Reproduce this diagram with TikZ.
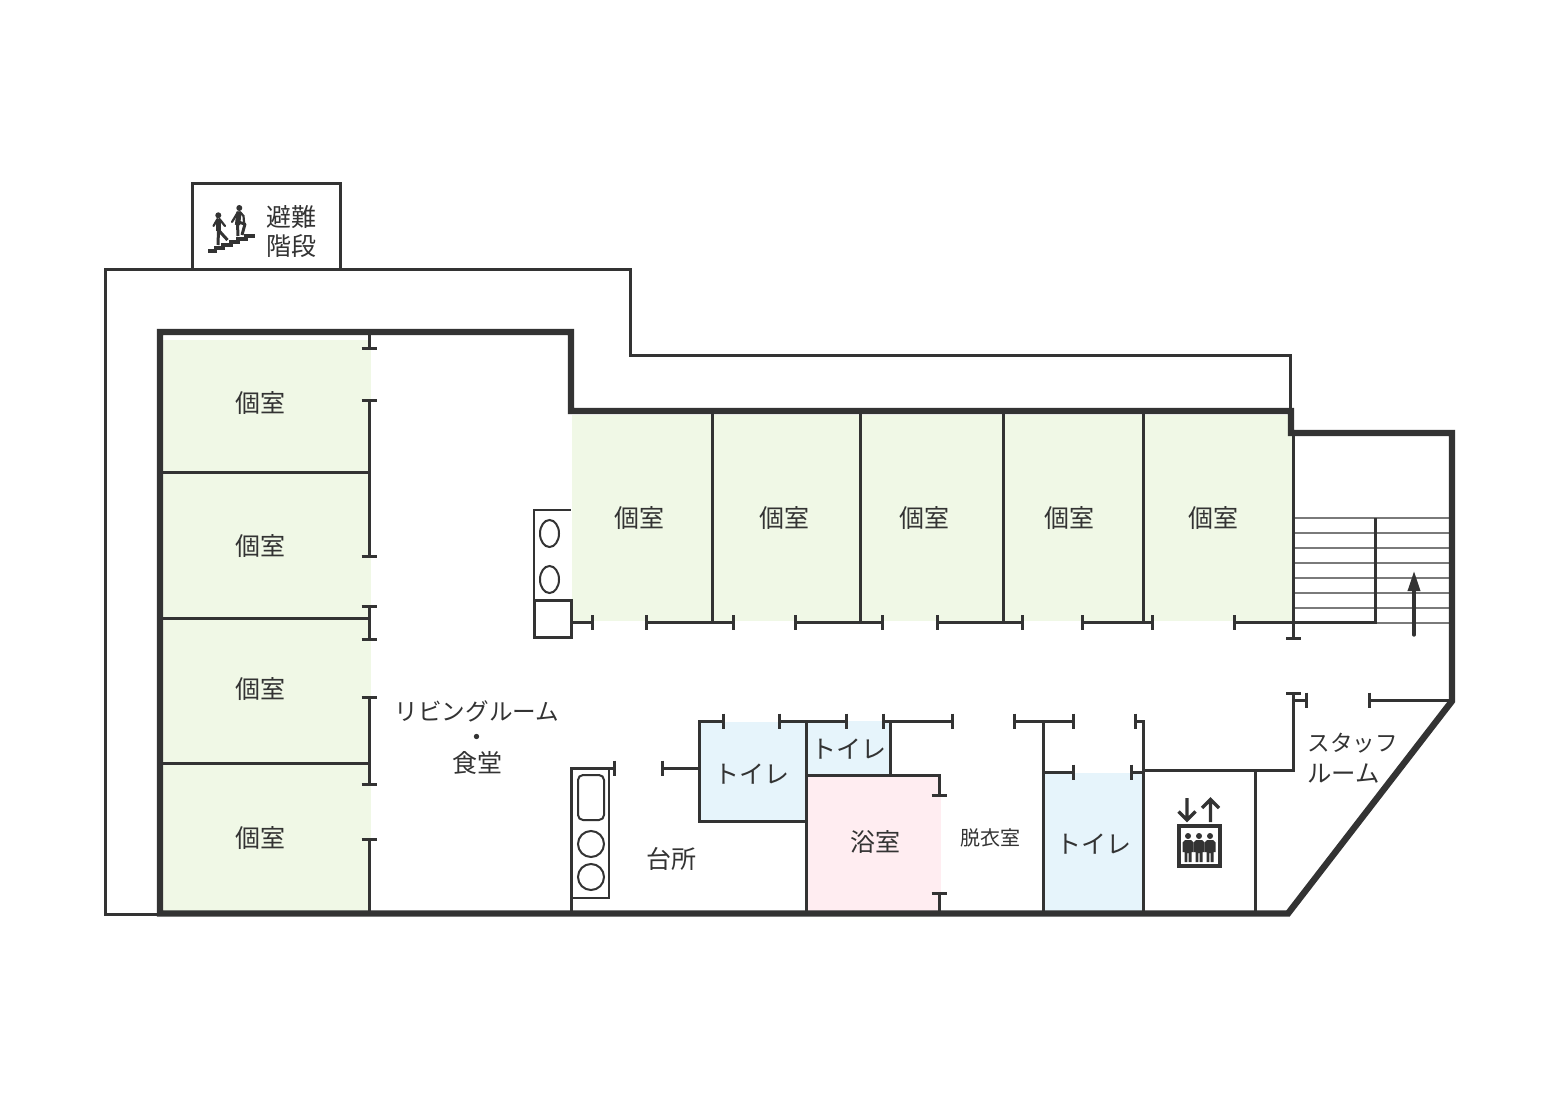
\documentclass[tikz,border=0pt]{standalone}
\usepackage{fontspec}
\setmainfont{Noto Sans CJK JP}
\usetikzlibrary{arrows.meta}
\definecolor{ink}{HTML}{333333}
\definecolor{roomgreen}{HTML}{F0F8E6}
\definecolor{toiletblue}{HTML}{E6F4FB}
\definecolor{bathpink}{HTML}{FFEDF1}
\tikzset{
  label/.style={text=ink,font=\fontsize{12.5}{13}\selectfont,inner sep=0pt},
  small/.style={text=ink,font=\fontsize{10}{11}\selectfont,inner sep=0pt},
  wall/.style={draw=ink,line width=1.5pt},
  outer/.style={draw=ink,line width=3.2pt,line join=miter},
  fine/.style={draw=ink,line width=1pt},
  tread/.style={draw=ink!65,line width=0.6pt},
  door/.style={draw=ink,line width=1.5pt},
}
% door ends: a stop across the wall end
\newcommand{\hdoor}[3]{\draw[door] (#1,#3) -- (#2,#3) (#1,#3-7.5) -- (#1,#3+7.5) (#2,#3-7.5) -- (#2,#3+7.5);}
\newcommand{\vdoor}[3]{\draw[door] (#3,#1) -- (#3,#2) (#3-7.5,#1) -- (#3+7.5,#1) (#3-7.5,#2) -- (#3+7.5,#2);}
\newcommand{\person}[1]{\fill[ink] (#1,836) circle (3)
  (#1-3,840) -- (#1+3,840) -- (#1+5.5,842.5) -- (#1+5.5,852) -- (#1+3.5,852) -- (#1+3.5,862) -- (#1+.6,862) -- (#1+.6,853) -- (#1-.6,853) -- (#1-.6,862) -- (#1-3.5,862) -- (#1-3.5,852) -- (#1-5.5,852) -- (#1-5.5,842.5) -- cycle;}
\begin{document}
\begin{tikzpicture}[x=0.5pt,y=-0.5pt]
  \useasboundingbox (0,0) rectangle (1561,1101);
  \fill[white] (0,0) rectangle (1561,1101);
  % room colours
  \fill[roomgreen] (163,340) rectangle (371,912);
  \fill[roomgreen] (572,415) rectangle (1293,621);
  \fill[toiletblue] (700,722) rectangle (806,821);
  \fill[toiletblue] (807,721) rectangle (890,775);
  \fill[toiletblue] (1043,773) rectangle (1143,912);
  \fill[bathpink] (807,775) rectangle (941,912);
  % balcony and escape stair
  \draw[wall] (158,914) -- (105,914) -- (105,270) -- (630,270) -- (630,355.5) -- (1290,355.5) -- (1290,411);
  \draw[wall] (192,270) -- (192,184) -- (340,184) -- (340,270);
  % left rooms
  \foreach \y in {472,618,763}
    \draw[wall] (160,\y) -- (369,\y);
  \draw[door] (369,332) -- (369,348) (361.5,348) -- (376.5,348);
  \vdoor{400}{556}{369}
  \vdoor{606}{639}{369}
  \vdoor{697}{784}{369}
  \draw[door] (369,913) -- (369,839) (361.5,839) -- (376.5,839);
  % top rooms
  \foreach \x in {712,860,1003,1143}
    \draw[wall] (\x,411) -- (\x,622.5);
  \draw[door] (571,622.5) -- (592,622.5) (592,615) -- (592,630);
  \hdoor{646}{733}{622.5}
  \hdoor{795}{882}{622.5}
  \hdoor{937}{1022}{622.5}
  \hdoor{1082}{1152}{622.5}
  % stair
  \foreach \y in {518,533,548,563,578,593,608,623}
    \draw[tread] (1294,\y) -- (1450,\y);
  \draw[door] (1234,615) -- (1234,630) (1234,622.5) -- (1375,622.5) -- (1375,518);
  \draw[wall] (1293.5,433) -- (1293.5,638) (1286,638) -- (1301,638);
  \draw[ink,line width=1.7pt,line cap=round,-{Triangle[length=10pt,width=6pt]}] (1414,635) -- (1414,571);
  % sink by the wall
  \draw[fine] (534,600) -- (534,510) -- (571,510);
  \draw[wall] (534,600) rectangle (571.5,637);
  \draw[fine] (549.5,533.5) ellipse (9.5 and 13.5);
  \draw[fine] (549.5,579.5) ellipse (9.5 and 13.5);
  % kitchen
  \draw[door] (571.5,913) -- (571.5,768) -- (614,768) (614,760.5) -- (614,775.5);
  \draw[fine] (571.5,898) -- (609,898) -- (609,768);
  \draw[fine,rounded corners=2.5pt] (578,775) rectangle (604,820);
  \draw[fine] (591,844) circle (13);
  \draw[fine] (591,877) circle (13);
  % toilets and bath
  \draw[door] (662.5,760.5) -- (662.5,775.5) (662.5,768) -- (699,768);
  \draw[door] (723,713.5) -- (723,728.5) (723,721) -- (699,721) -- (699,821.5) -- (806.5,821.5);
  \hdoor{779}{846}{721}
  \hdoor{883}{952}{721}
  \draw[wall] (806.5,721) -- (806.5,913);
  \draw[wall] (890.5,721) -- (890.5,775);
  \draw[wall] (806.5,775) -- (939,775) -- (939,795) (931.5,795) -- (946.5,795);
  \draw[wall] (939,913) -- (939,893) (931.5,893) -- (946.5,893);
  % changing room and right toilet
  \hdoor{1014}{1073}{721}
  \draw[wall] (1043,721) -- (1043,913);
  \draw[door] (1043,772) -- (1073,772) (1073,764.5) -- (1073,779.5);
  \draw[door] (1135,713.5) -- (1135,728.5) (1135,721) -- (1143,721) -- (1143,913);
  \draw[door] (1131,764.5) -- (1131,779.5) (1131,772) -- (1143,772);
  % lift and staff room
  \draw[wall] (1143,770) -- (1293.5,770) -- (1293.5,693) (1286,693) -- (1301,693);
  \draw[door] (1293.5,700) -- (1306.5,700) (1306.5,692.5) -- (1306.5,707.5);
  \draw[door] (1369.5,692.5) -- (1369.5,707.5) (1369.5,700) -- (1452,700);
  \draw[wall] (1255,770) -- (1255,913);
  % main walls
  \draw[outer] (160,332) -- (571,332) -- (571,411) -- (1291,411) -- (1291,433) -- (1452,433) -- (1452,701) -- (1288,913.5) -- (160,913.5) -- cycle;
  % lift symbol
  \draw[ink,line width=2pt] (1179,826) rectangle (1219.5,865.5);
  \draw[ink,line width=1.7pt] (1187,798) -- (1187,820) (1178.5,811.5) -- (1187,820) -- (1195.5,811.5);
  \draw[ink,line width=1.7pt] (1210.5,822) -- (1210.5,799.5) (1202,808) -- (1210.5,799.5) -- (1219,808);
  \person{1188}
  \person{1199}
  \person{1210}
  % stair symbol
  \draw[ink,line width=1.8pt,line join=miter] (208,251) -- (215.5,251) -- (215.5,248) -- (223,248) -- (223,245) -- (231,245) -- (231,242) -- (238,242) -- (238,239) -- (246,239) -- (246,236) -- (255,236);
  \fill[ink] (218.3,215.3) circle (3) (239.3,208) circle (3);
  \draw[ink,line width=2.8pt] (218.5,219.5) -- (218.5,231);
  \draw[ink,line width=1.5pt,line join=round] (218.5,230) -- (218,245) (218.5,230) -- (222,234) -- (227.5,240);
  \draw[ink,line width=1.1pt,line cap=round] (217.5,219) -- (213.5,226) (219.5,219) -- (225,226);
  \draw[ink,line width=2.6pt] (239,212) -- (237.5,225);
  \draw[ink,line width=1.5pt,line join=round] (237.5,224) -- (238,236) (238,222) -- (245,224) -- (242,235);
  \draw[ink,line width=1.1pt,line cap=round] (238,212) -- (232,222) (240,212) -- (243.5,216) -- (244,222);
  % labels
  \node[label] (room1) at (260,403.5) {個室};
  \node[label] (room2) at (260,546.5) {個室};
  \node[label] (room3) at (260,689.5) {個室};
  \node[label] (room4) at (260,838.5) {個室};
  \node[label] (room5) at (639,518.5) {個室};
  \node[label] (room6) at (784,518.5) {個室};
  \node[label] (room7) at (924,518.5) {個室};
  \node[label] (room8) at (1069,518.5) {個室};
  \node[label] (room9) at (1213,518.5) {個室};
  \node[label,align=center] (living) at (477,738) {{\fontsize{11.8}{13}\selectfont リビングルーム}\\・\\食堂};
  \node[label] (wc1) at (752,774.5) {トイレ};
  \node[label] (wc2) at (849,749) {トイレ};
  \node[label] (wc3) at (1094,844.5) {トイレ};
  \node[label] (bath) at (875,841.5) {浴室};
  \node[label] (kitchen) at (671,858.5) {台所};
  \node[small] (changing) at (990,837.5) {脱衣室};
  \node[label,align=left,anchor=west,font=\fontsize{15.5}{15.5}\selectfont] (staff) at (1307,758) {{\fontsize{11.3}{15.5}\selectfont スタッフ}\\{\fontsize{12.2}{15.5}\selectfont ルーム}};
  \node[label,align=center,font=\fontsize{12.5}{14.5}\selectfont] (escape) at (291,232) {避難\\階段};
\end{tikzpicture}
\end{document}
